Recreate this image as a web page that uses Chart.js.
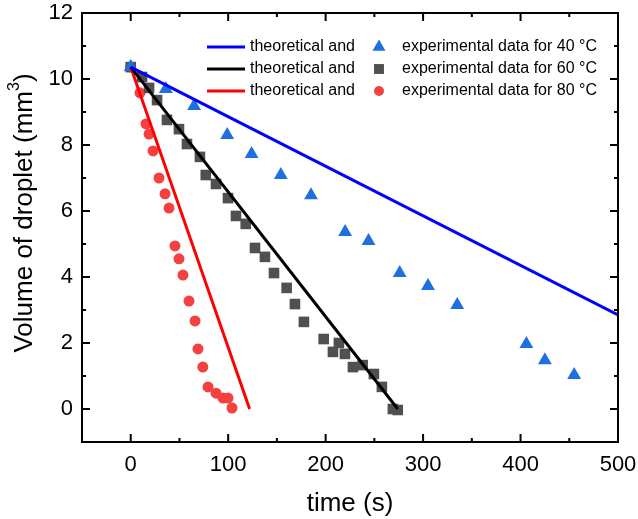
<!DOCTYPE html>
<html>
<head>
<meta charset="utf-8">
<script src="https://cdn.jsdelivr.net/npm/chart.js@4"></script>
<style>
  html, body { margin: 0; padding: 0; background: #fff; }
  #wrap { width: 638px; height: 519px; }
</style>
</head>
<body>
<div id="wrap"><canvas id="dropChart" width="638" height="519"></canvas></div>
<script>
const t40 = [0, 36, 65, 99, 124, 154, 185, 220, 244, 276, 305, 335, 406, 425, 455];
const v40 = [10.36, 9.7, 9.18, 8.3, 7.73, 7.09, 6.48, 5.36, 5.09, 4.12, 3.73, 3.15, 1.97, 1.48, 1.03];

const t60 = [0, 11.6, 18.8, 27, 37.2, 49.5, 57.7, 71, 77, 87.5, 99.8, 108, 118, 127.5, 137.7, 147,
             160, 168.5, 177.7, 198, 207.5, 213.6, 219.8, 228, 238, 249.5, 257.7, 269, 274];
const v60 = [10.36, 10.06, 9.73, 9.36, 8.76, 8.48, 8.03, 7.64, 7.09, 6.82, 6.39, 5.85, 5.61, 4.88, 4.61, 4.12,
             3.67, 3.18, 2.64, 2.12, 1.73, 2.0, 1.67, 1.27, 1.33, 1.06, 0.67, 0.0, -0.03];

const t80 = [0, 9.5, 15.7, 18.8, 22.9, 29, 35.2, 39.3, 45.4, 49.5, 53.6, 59.8, 66, 69, 74, 79.3, 87.5, 94.7, 99.8, 103.9];
const v80 = [10.36, 9.58, 8.64, 8.33, 7.82, 7.0, 6.52, 6.09, 4.94, 4.55, 4.06, 3.27, 2.67, 1.82, 1.27, 0.67, 0.48, 0.33, 0.33, 0.03];

// theoretical lines
const theoT40 = [0, 500];
const theoV40 = [10.36, 2.85];
const theoT60 = [0, 274];
const theoV60 = [10.36, 0];
const theoT80 = [0, 122];
const theoV80 = [10.36, 0];

// axis ticks
const xTickValues = [0, 100, 200, 300, 400, 500];
const xMinorValues = [-50, 50, 150, 250, 350, 450];
const yTickValues = [0, 2, 4, 6, 8, 10, 12];
const yMinorValues = [-1, 1, 3, 5, 7, 9, 11];

const legendLabels = ['experimental data for 40 \u00B0C', 'experimental data for 60 \u00B0C', 'experimental data for 80 \u00B0C'];

const FONT = '"Liberation Sans", Arial, Helvetica, sans-serif';

function pts(xs, ys) {
    return xs.map((x, i) => ({ x: x, y: ys[i] }));
}

const blueLine = '#0000ff';
const blueMark = 'rgb(30,112,225)';
const greyMark = '#505050';
const redMark = 'rgb(245,64,64)';

// frame with inward ticks on all four sides
const framePlugin = {
    id: 'frame',
    afterDraw(chart) {
        const ctx = chart.ctx;
        const a = chart.chartArea;
        const xs = chart.scales.x, ys = chart.scales.y;
        ctx.save();
        ctx.strokeStyle = '#000';
        ctx.lineWidth = 2;
        ctx.strokeRect(a.left, a.top, a.right - a.left, a.bottom - a.top);
        ctx.beginPath();
        const tick = (vals, len) => {
            vals.forEach(v => {
                const px = xs.getPixelForValue(v);
                ctx.moveTo(px, a.bottom); ctx.lineTo(px, a.bottom - len);
                ctx.moveTo(px, a.top); ctx.lineTo(px, a.top + len);
            });
        };
        const ytick = (vals, len) => {
            vals.forEach(v => {
                const py = ys.getPixelForValue(v);
                ctx.moveTo(a.left, py); ctx.lineTo(a.left + len, py);
                ctx.moveTo(a.right, py); ctx.lineTo(a.right - len, py);
            });
        };
        tick(xTickValues, 8);
        tick(xMinorValues, 4);
        ytick(yTickValues, 8);
        ytick(yMinorValues, 4);
        ctx.stroke();

        // y axis title with superscript
        ctx.fillStyle = '#000';
        ctx.translate(25, 213);
        ctx.rotate(-Math.PI / 2);
        ctx.textBaseline = 'middle';
        const main = 'Volume of droplet (mm';
        ctx.font = '26px ' + FONT;
        const w1 = ctx.measureText(main).width;
        const w3 = ctx.measureText(')').width;
        ctx.font = '16px ' + FONT;
        const w2 = ctx.measureText('3').width;
        let x0 = -(w1 + w2 + w3) / 2;
        ctx.font = '26px ' + FONT;
        ctx.textAlign = 'left';
        ctx.fillText(main, x0, 0);
        ctx.font = '16px ' + FONT;
        ctx.fillText('3', x0 + w1, -10);
        ctx.font = '26px ' + FONT;
        ctx.fillText(')', x0 + w1 + w2, 0);
        ctx.restore();

        // legend
        ctx.save();
        ctx.font = '16px ' + FONT;
        ctx.textBaseline = 'middle';
        ctx.fillStyle = '#000';
        const rowsY = [47, 69, 91];
        const lineDs = [chart.data.datasets[0], chart.data.datasets[1], chart.data.datasets[2]];
        const markDs = [chart.data.datasets[3], chart.data.datasets[4], chart.data.datasets[5]];
        rowsY.forEach((y, i) => {
            ctx.strokeStyle = lineDs[i].borderColor;
            ctx.lineWidth = 3;
            ctx.beginPath();
            ctx.moveTo(207, y); ctx.lineTo(245, y);
            ctx.stroke();
            ctx.fillStyle = '#000';
            ctx.fillText('theoretical and', 250, y);
            const md = markDs[i];
            ctx.fillStyle = md.backgroundColor;
            ctx.strokeStyle = md.backgroundColor;
            Chart.helpers.drawPoint(ctx, {
                pointStyle: md.pointStyle,
                radius: md.pointRadius - 0.5,
                rotation: 0,
                borderWidth: 0
            }, 379, y);
            ctx.fillStyle = '#000';
            ctx.fillText(legendLabels[i], 402, y);
        });
        ctx.restore();
    }
};

const ctx = document.getElementById('dropChart').getContext('2d');

const dropChart = new Chart(ctx, {
    type: 'scatter',
    data: {
        datasets: [
            { label: 'theoretical 40', data: pts(theoT40, theoV40), showLine: true, borderColor: blueLine,
              borderWidth: 3, pointRadius: 0, order: 0 },
            { label: 'theoretical 60', data: pts(theoT60, theoV60), showLine: true, borderColor: '#000000',
              borderWidth: 3, pointRadius: 0, order: 0 },
            { label: 'theoretical 80', data: pts(theoT80, theoV80), showLine: true, borderColor: '#ff0000',
              borderWidth: 3, pointRadius: 0, order: 0 },
            { label: 'experimental 40', data: pts(t40, v40), pointStyle: 'triangle', pointRadius: 8,
              backgroundColor: blueMark, borderColor: blueMark, borderWidth: 0, order: 1 },
            { label: 'experimental 60', data: pts(t60, v60), pointStyle: 'rect', pointRadius: 7.5,
              backgroundColor: greyMark, borderColor: greyMark, borderWidth: 0, order: 2 },
            { label: 'experimental 80', data: pts(t80, v80), pointStyle: 'circle', pointRadius: 5.5,
              backgroundColor: redMark, borderColor: redMark, borderWidth: 0, order: 3 }
        ]
    },
    options: {
        responsive: false,
        animation: false,
        layout: { padding: { top: 13, right: 20, left: 0, bottom: 0 } },
        plugins: {
            legend: { display: false },
            tooltip: { enabled: false }
        },
        scales: {
            x: {
                type: 'linear',
                min: -50,
                max: 500,
                afterBuildTicks: s => { s.ticks = xTickValues.map(v => ({ value: v })); },
                afterFit: s => { s.height = 77; s.paddingLeft = 0; s.paddingRight = 0; },
                grid: { display: false, drawTicks: false },
                border: { display: false },
                ticks: { color: '#000', padding: 10, maxRotation: 0, font: { family: FONT, size: 22 } },
                title: { display: true, text: 'time (s)', color: '#000', padding: { top: 0, bottom: 0 },
                         font: { family: FONT, size: 26 } }
            },
            y: {
                type: 'linear',
                min: -1,
                max: 12,
                afterBuildTicks: s => { s.ticks = yTickValues.map(v => ({ value: v })); },
                afterFit: s => { s.width = 82; s.paddingTop = 0; s.paddingBottom = 0; },
                grid: { display: false, drawTicks: false },
                border: { display: false },
                ticks: { color: '#000', padding: 9, font: { family: FONT, size: 22 } }
            }
        }
    },
    plugins: [framePlugin]
});
</script>
</body>
</html>
